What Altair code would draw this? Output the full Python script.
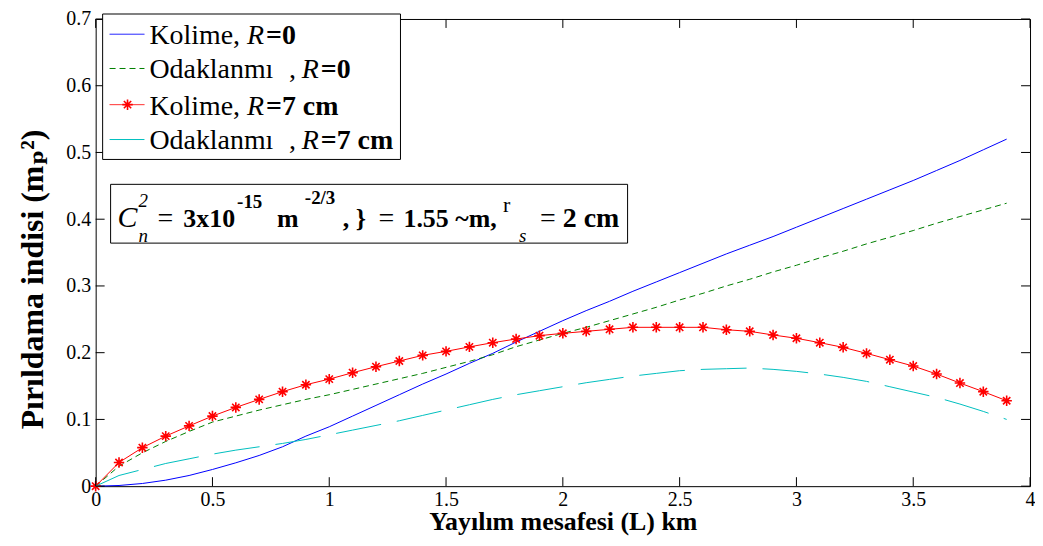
import altair as alt
import pandas as pd

# ---------------- data ----------------
L = [0.0, 0.1, 0.2, 0.3, 0.4, 0.5, 0.6, 0.7, 0.8, 0.9,
     1.0, 1.1, 1.2, 1.3, 1.4, 1.5, 1.6, 1.7, 1.8, 1.9,
     2.0, 2.1, 2.2, 2.3, 2.4, 2.5, 2.6, 2.7, 2.8, 2.9,
     3.0, 3.1, 3.2, 3.3, 3.4, 3.5, 3.6, 3.7, 3.8, 3.9]

kolime_r0 = [0.000, 0.001, 0.004, 0.009, 0.016, 0.025, 0.035, 0.046, 0.059, 0.075,
             0.089, 0.105, 0.121, 0.137, 0.153, 0.168, 0.184, 0.199, 0.216, 0.232,
             0.248, 0.263, 0.277, 0.292, 0.306, 0.320, 0.334, 0.348, 0.361, 0.374,
             0.388, 0.402, 0.416, 0.430, 0.444, 0.458, 0.473, 0.488, 0.504, 0.520]

odak_r0 = [0.000, 0.030, 0.050, 0.067, 0.082, 0.096, 0.105, 0.114, 0.122, 0.130,
           0.137, 0.145, 0.153, 0.161, 0.169, 0.178, 0.187, 0.197, 0.209, 0.219,
           0.229, 0.238, 0.248, 0.258, 0.268, 0.279, 0.289, 0.300, 0.310, 0.321,
           0.331, 0.342, 0.352, 0.363, 0.373, 0.383, 0.394, 0.404, 0.414, 0.424]

kolime_r7 = [0.000, 0.0355, 0.0577, 0.075, 0.0903, 0.105, 0.118, 0.130, 0.1416, 0.152,
             0.1604, 0.170, 0.179, 0.1875, 0.196, 0.202, 0.2087, 0.215, 0.2205, 0.2255,
             0.229, 0.232, 0.235, 0.238, 0.238, 0.238, 0.238, 0.2344, 0.232, 0.2265,
             0.2216, 0.215, 0.208, 0.199, 0.1895, 0.180, 0.168, 0.1545, 0.1416, 0.128]

odak_r7 = [0.000, 0.016, 0.025, 0.034, 0.041, 0.048, 0.054, 0.059, 0.064, 0.070,
           0.077, 0.084, 0.091, 0.098, 0.106, 0.114, 0.122, 0.130, 0.137, 0.143,
           0.149, 0.155, 0.160, 0.165, 0.169, 0.173, 0.175, 0.176, 0.177, 0.175,
           0.172, 0.168, 0.163, 0.157, 0.149, 0.141, 0.133, 0.123, 0.112, 0.100]

x_ticks = [0, 0.5, 1, 1.5, 2, 2.5, 3, 3.5, 4]
y_ticks = [0, 0.1, 0.2, 0.3, 0.4, 0.5, 0.6, 0.7]

x_title = "Yayılım mesafesi (L) km"
y_title = "Pırıldama indisi (mₚ²)"

legend_rows = [
    ["Kolime,", "", "R", "=0"],
    ["Odaklanmı", ",", "R", "=0"],
    ["Kolime,", "", "R", "=7 cm"],
    ["Odaklanmı", ",", "R", "=7 cm"],
]

# ---------------- styling / layout ----------------
FONT = "Times New Roman, Liberation Serif, DejaVu Serif, serif"
W, H = 938, 469
BLUE, GREEN, RED, CYAN = "#0000ff", "#008000", "#ff0000", "#00bfbf"
ASTERISK = "M0,-1L0,1M-1,0L1,0M-0.7,-0.7L0.7,0.7M-0.7,0.7L0.7,-0.7"

x_enc = alt.X("L:Q", scale=alt.Scale(domain=[0, 4], nice=False),
              axis=alt.Axis(values=x_ticks, format=".1~f", title=x_title,
                            labelPadding=3, titlePadding=0, labelFlush=False,
                            titleFontSize=26))
y_enc = alt.Y("value:Q", scale=alt.Scale(domain=[0, 0.7], nice=False),
              axis=alt.Axis(values=y_ticks, format=".1~f", title=y_title,
                            labelPadding=5, titleX=-63, titleY=261,
                            titleBaseline="middle", titleFontSize=32))

one = pd.DataFrame({"d": [0]})


def series(vals):
    return pd.DataFrame({"L": L, "value": vals})


layers = []
layers.append(alt.Chart(series(kolime_r0)).mark_line(color=BLUE, strokeWidth=1)
              .encode(x=x_enc, y=y_enc))
layers.append(alt.Chart(series(odak_r0)).mark_line(color=GREEN, strokeWidth=1, strokeDash=[6, 4])
              .encode(x=x_enc, y=y_enc))
layers.append(alt.Chart(series(kolime_r7)).mark_line(color=RED, strokeWidth=1)
              .encode(x=x_enc, y=y_enc))
layers.append(alt.Chart(series(kolime_r7)).mark_point(shape=ASTERISK, size=110, filled=False,
                                                       color=RED, strokeWidth=1.6, opacity=1)
              .encode(x=x_enc, y=y_enc))
layers.append(alt.Chart(series(odak_r7)).mark_line(color=CYAN, strokeWidth=1, strokeDash=[46, 16])
              .encode(x=x_enc, y=y_enc))

# inner ticks on all four sides
xt = pd.DataFrame({"L": x_ticks})
yt = pd.DataFrame({"value": y_ticks})
TK = 9
layers.append(alt.Chart(yt).mark_rule(color="black", strokeWidth=1)
              .encode(y=y_enc, x=alt.value(0), x2=alt.value(TK)))
layers.append(alt.Chart(yt).mark_rule(color="black", strokeWidth=1)
              .encode(y=y_enc, x=alt.value(W - TK), x2=alt.value(W)))
layers.append(alt.Chart(xt).mark_rule(color="black", strokeWidth=1)
              .encode(x=x_enc, y=alt.value(H - TK), y2=alt.value(H)))
layers.append(alt.Chart(xt).mark_rule(color="black", strokeWidth=1)
              .encode(x=x_enc, y=alt.value(0), y2=alt.value(TK)))


def box(x1, x2, y1, y2):
    return (alt.Chart(one).mark_rect(fill="white", stroke="black", strokeWidth=1)
            .encode(x=alt.value(x1), x2=alt.value(x2), y=alt.value(y1), y2=alt.value(y2)))


def txt(s, x, y, size, style="normal", weight="normal"):
    return (alt.Chart(one).mark_text(text=s, align="left", baseline="alphabetic", font=FONT,
                                      fontSize=size, fontStyle=style, fontWeight=weight,
                                      color="black")
            .encode(x=alt.value(x), y=alt.value(y)))


# ---------------- legend ----------------
layers.append(box(7, 306, -5, 141))
row_line_y = [15.3, 49.7, 86, 121]
row_base_y = [25.3, 59.7, 96.3, 131]
row_colors = [BLUE, GREEN, RED, CYAN]
row_dash = [[1, 0], [6, 4], [1, 0], [46, 16]]
row_x = [[54, 0, 152, 171], [54, 194, 207, 226], [54, 0, 152, 171], [54, 194, 207, 226]]
for i, parts in enumerate(legend_rows):
    layers.append(alt.Chart(one).mark_rule(color=row_colors[i], strokeWidth=1, strokeDash=row_dash[i])
                  .encode(x=alt.value(14), x2=alt.value(49), y=alt.value(row_line_y[i])))
    if i == 2:
        layers.append(alt.Chart(one).mark_point(shape=ASTERISK, size=110, filled=False, color=RED,
                                                strokeWidth=1.6, opacity=1)
                      .encode(x=alt.value(32), y=alt.value(row_line_y[i])))
    layers.append(txt(parts[0], row_x[i][0], row_base_y[i], 28))
    if parts[1]:
        layers.append(txt(parts[1], row_x[i][1], row_base_y[i], 28))
    layers.append(txt(parts[2], row_x[i][2], row_base_y[i], 28, style="italic"))
    layers.append(txt(parts[3], row_x[i][3], row_base_y[i], 28, weight="bold"))

# ---------------- annotation box ----------------
layers.append(box(15, 534, 166, 225))
BL = 209
layers += [
    txt("C", 22, BL, 30, style="italic"),
    txt("2", 43, 189, 19, style="italic"),
    txt("n", 43, 224, 19, style="italic"),
    txt("=", 62, BL, 28),
    txt("3x10", 88, BL, 26, weight="bold"),
    txt("-15", 142, 190, 19, weight="bold"),
    txt("m", 182, BL, 26, weight="bold"),
    txt("-2/3", 210, 186, 19, weight="bold"),
    txt(", }", 248, BL, 26, weight="bold"),
    txt("=", 284, BL, 28),
    txt("1.55 ~m,", 309, BL, 26, weight="bold"),
    txt("r", 409, 194, 22),
    txt("s", 425, 224, 19, style="italic"),
    txt("=", 446, BL, 28),
    txt("2 cm", 469, BL, 28, weight="bold"),
]

chart = (alt.layer(*layers)
         .properties(width=W, height=H,
                     autosize=alt.AutoSizeParams(type="none"),
                     padding={"left": 88, "top": 10, "right": 5, "bottom": 49})
         .configure_view(stroke="black", strokeWidth=1)
         .configure_axis(domain=False, ticks=False, grid=False,
                         labelFont=FONT, labelFontSize=20, labelColor="black",
                         titleFont=FONT, titleFontWeight="bold",
                         titleColor="black"))

chart.save("out.html", embed_options={"renderer": "svg", "actions": False})
